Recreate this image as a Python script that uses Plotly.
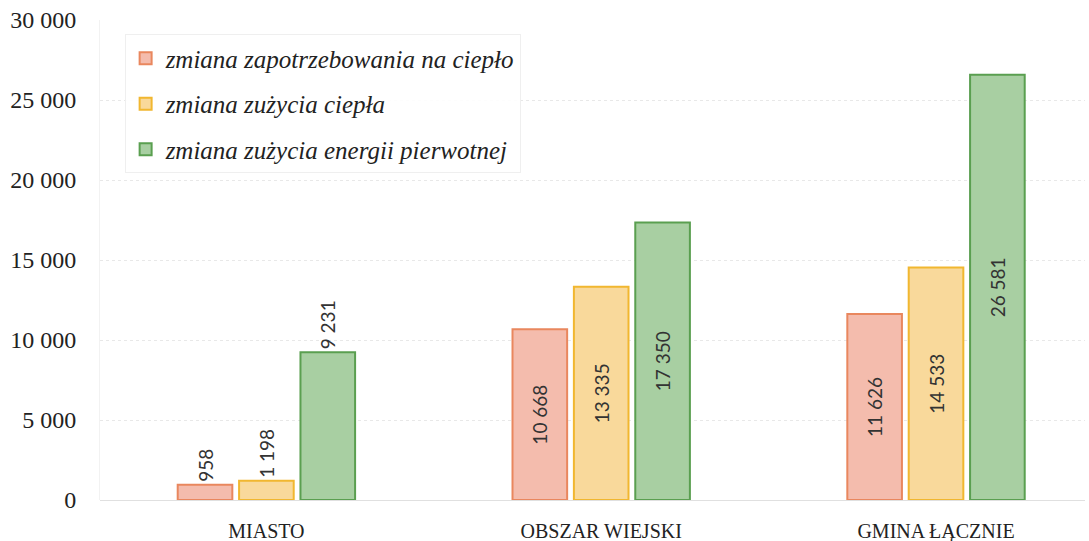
import plotly.graph_objects as go

categories = ["MIASTO", "OBSZAR WIEJSKI", "GMINA ŁĄCZNIE"]
series_names = [
    "zmiana zapotrzebowania na ciepło",
    "zmiana zużycia ciepła",
    "zmiana zużycia energii pierwotnej",
]
demand = [958, 10668, 11626]
heat_use = [1198, 13335, 14533]
primary = [9231, 17350, 26581]
y_ticks = [0, 5000, 10000, 15000, 20000, 25000, 30000]

fills = ["#f4bcad", "#f9d99b", "#a8cfa2"]
borders = ["#e9875e", "#f1b730", "#5a9f50"]
text_pos = ["outside", "inside", "inside"]

SERIF = "Liberation Serif, DejaVu Serif, serif"

fig = go.Figure()
for i, (name, vals) in enumerate(zip(series_names, [demand, heat_use, primary])):
    fig.add_trace(go.Bar(
        x=categories, y=vals, name=name,
        legendgroup=f"g{i}",
        marker=dict(color=fills[i], line=dict(color=borders[i], width=2)),
        texttemplate="%{y:,}", textposition=text_pos, textangle=-90,
        insidetextanchor="middle",
        textfont=dict(family="Lato, Open Sans, sans-serif", size=19, color="#333333"),
        cliponaxis=False,
    ))

fig.update_layout(
    width=1089, height=541,
    margin=dict(l=100, r=4, t=20, b=41),
    paper_bgcolor="white", plot_bgcolor="white",
    separators=", ",
    barmode="group", bargap=0.45, bargroupgap=0.11,
    showlegend=True,
    legend=dict(
        x=0.025, y=0.97, xanchor="left", yanchor="top",
        bgcolor="rgba(255,255,255,0.9)", bordercolor="#efefef", borderwidth=1,
        font=dict(family=SERIF, size=25, color="#222222", style="italic"),
        tracegroupgap=10, itemwidth=30,
    ),
    font=dict(family=SERIF, color="#222222"),
)
fig.update_xaxes(
    range=[-0.497, 2.445], showgrid=False, zeroline=False, showline=False,
    tickfont=dict(family=SERIF, size=20, color="#222222"),
    ticks="", automargin=False, ticklabelstandoff=17,
)
fig.update_yaxes(
    range=[0, 30000], tickvals=y_ticks, tickformat=",",
    showgrid=True, gridcolor="#e8e8e8", griddash="dot", gridwidth=1,
    zeroline=True, zerolinecolor="#e0e0e0", zerolinewidth=1,
    showline=True, linecolor="#f2f2f2", linewidth=1,
    tickfont=dict(family=SERIF, size=24, color="#222222"),
    ticks="", ticklabelstandoff=18, automargin=False,
)

fig.write_html(
    "out.html",
    config={"displayModeBar": False},
    post_script="document.body.style.margin='0';document.body.style.overflow='hidden';",
)
